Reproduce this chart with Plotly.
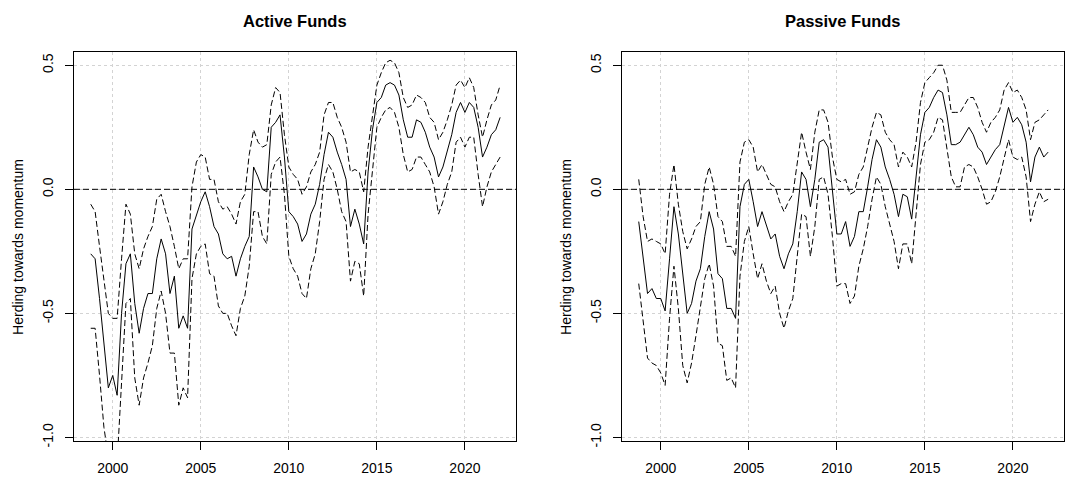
import numpy as np
import plotly.graph_objects as go

# Quarterly observation dates (decimal years), Q4 1998 .. Q1 2022
years = np.arange(1998.75, 2022.0 + 1e-9, 0.25)

# Active funds: estimate and confidence band
active_mean = [
    -0.26,
    -0.28, -0.44, -0.63, -0.80,
    -0.75, -0.83, -0.50, -0.30,
    -0.26, -0.46, -0.58, -0.48,
    -0.42, -0.42, -0.28, -0.20,
    -0.26, -0.42, -0.35, -0.56,
    -0.51, -0.56, -0.16, -0.10,
    -0.05, -0.01, -0.07, -0.15,
    -0.18, -0.26, -0.28, -0.27,
    -0.35, -0.28, -0.23, -0.19,
    0.09, 0.05, 0.00, -0.01,
    0.25, 0.27, 0.30, 0.13,
    -0.09, -0.11, -0.14, -0.21,
    -0.18, -0.10, -0.06, 0.02,
    0.14, 0.23, 0.21, 0.15,
    0.10, 0.04, -0.15, -0.08,
    -0.14, -0.22, 0.07, 0.24,
    0.35, 0.37, 0.42, 0.43,
    0.42, 0.38, 0.28, 0.21,
    0.21, 0.28, 0.27, 0.23,
    0.17, 0.13, 0.05, 0.09,
    0.15, 0.22, 0.31, 0.35,
    0.31, 0.35, 0.33, 0.25,
    0.13, 0.17, 0.22, 0.24,
    0.29,
]
active_upper = [
    -0.06,
    -0.09, -0.23, -0.36, -0.50,
    -0.52, -0.52, -0.28, -0.06,
    -0.10, -0.26, -0.32, -0.24,
    -0.19, -0.15, -0.04, -0.02,
    -0.09, -0.15, -0.23, -0.32,
    -0.28, -0.28, 0.01, 0.11,
    0.14, 0.13, 0.04, 0.04,
    -0.05, -0.08, -0.07, -0.10,
    -0.14, -0.05, -0.02, 0.14,
    0.24, 0.19, 0.17, 0.18,
    0.34, 0.41, 0.39, 0.22,
    0.09, 0.06, 0.04, -0.02,
    0.01, 0.07, 0.10, 0.15,
    0.30, 0.35, 0.35, 0.29,
    0.25, 0.19, 0.07, 0.08,
    0.07, -0.01, 0.17, 0.30,
    0.42, 0.47, 0.51, 0.52,
    0.51, 0.47, 0.37, 0.33,
    0.34, 0.38, 0.37, 0.35,
    0.29, 0.27, 0.20, 0.23,
    0.28, 0.34, 0.42, 0.44,
    0.41, 0.45, 0.41, 0.30,
    0.21, 0.28, 0.34, 0.36,
    0.42,
]
active_lower = [
    -0.56,
    -0.56, -0.75, -0.96, -1.08,
    -1.04, -1.10, -0.76, -0.46,
    -0.44, -0.76, -0.87, -0.76,
    -0.70, -0.63, -0.48, -0.41,
    -0.50, -0.66, -0.66, -0.87,
    -0.80, -0.84, -0.36, -0.26,
    -0.23, -0.22, -0.34, -0.35,
    -0.47, -0.50, -0.50, -0.55,
    -0.59, -0.48, -0.43, -0.31,
    -0.09, -0.09, -0.19, -0.22,
    0.06, 0.11, 0.13, -0.02,
    -0.27, -0.32, -0.35, -0.42,
    -0.44, -0.32, -0.26, -0.13,
    0.04, 0.10, 0.07, 0.00,
    -0.09, -0.13, -0.37, -0.29,
    -0.30, -0.43, -0.10, 0.07,
    0.25, 0.29, 0.32, 0.33,
    0.31, 0.25, 0.14, 0.07,
    0.08, 0.13, 0.13, 0.10,
    0.07, 0.01, -0.10, -0.05,
    0.02, 0.07, 0.19, 0.21,
    0.17, 0.21, 0.21, 0.06,
    -0.07, 0.01, 0.07, 0.10,
    0.13,
]

# Passive funds: estimate and confidence band
passive_mean = [
    -0.13,
    -0.27, -0.42, -0.40, -0.44,
    -0.44, -0.49, -0.28, -0.07,
    -0.18, -0.35, -0.50, -0.46,
    -0.37, -0.32, -0.19, -0.09,
    -0.16, -0.34, -0.36, -0.48,
    -0.48, -0.52, -0.07, 0.02,
    0.04, -0.05, -0.15, -0.09,
    -0.15, -0.20, -0.18, -0.27,
    -0.32, -0.26, -0.22, -0.09,
    0.07, 0.04, -0.07, 0.04,
    0.19, 0.20, 0.17, -0.01,
    -0.18, -0.18, -0.13, -0.23,
    -0.19, -0.09, -0.09, 0.01,
    0.12, 0.20, 0.17, 0.09,
    0.04, -0.02, -0.11, -0.02,
    -0.03, -0.12, 0.06, 0.22,
    0.31, 0.33, 0.37, 0.40,
    0.39, 0.30, 0.18, 0.18,
    0.19, 0.22, 0.25, 0.22,
    0.17, 0.15, 0.10, 0.13,
    0.16, 0.18, 0.26, 0.33,
    0.27, 0.29, 0.26, 0.19,
    0.03, 0.13, 0.17, 0.13,
    0.15,
]
passive_upper = [
    0.04,
    -0.11, -0.21, -0.20, -0.21,
    -0.22, -0.26, -0.02, 0.10,
    -0.06, -0.17, -0.24, -0.20,
    -0.15, -0.13, 0.02, 0.09,
    0.02, -0.11, -0.13, -0.23,
    -0.23, -0.27, 0.11, 0.19,
    0.20, 0.17, 0.07, 0.10,
    0.06, 0.02, 0.01, -0.05,
    -0.09, -0.05, -0.02, 0.11,
    0.23, 0.15, 0.08, 0.23,
    0.32, 0.32, 0.27, 0.13,
    0.04, 0.03, 0.04, -0.02,
    -0.01, 0.06, 0.09, 0.17,
    0.25, 0.31, 0.30, 0.23,
    0.20, 0.18, 0.09, 0.15,
    0.13, 0.09, 0.19, 0.35,
    0.43, 0.45, 0.47, 0.50,
    0.50, 0.44, 0.31, 0.31,
    0.31, 0.34, 0.37, 0.37,
    0.33, 0.27, 0.23, 0.27,
    0.29, 0.32, 0.40, 0.43,
    0.39, 0.40, 0.37, 0.32,
    0.20, 0.27, 0.28, 0.30,
    0.32,
]
passive_lower = [
    -0.38,
    -0.52, -0.68, -0.70, -0.71,
    -0.74, -0.79, -0.52, -0.31,
    -0.48, -0.71, -0.78, -0.70,
    -0.59, -0.48, -0.36, -0.30,
    -0.39, -0.62, -0.63, -0.77,
    -0.76, -0.80, -0.35, -0.21,
    -0.15, -0.26, -0.36, -0.30,
    -0.37, -0.42, -0.39, -0.50,
    -0.56, -0.49, -0.44, -0.27,
    -0.10, -0.11, -0.27, -0.15,
    0.04, 0.05, -0.02, -0.19,
    -0.39, -0.38, -0.38, -0.46,
    -0.43, -0.31, -0.24, -0.15,
    -0.04, 0.05, 0.02, -0.07,
    -0.14, -0.21, -0.32, -0.22,
    -0.22, -0.30, -0.10, 0.10,
    0.19, 0.20, 0.23, 0.29,
    0.28, 0.17, 0.05, 0.01,
    0.01, 0.09, 0.10, 0.09,
    0.05, 0.00, -0.06, -0.05,
    -0.01, 0.05, 0.13, 0.20,
    0.13, 0.12, 0.13, 0.05,
    -0.13, -0.06, -0.01, -0.05,
    -0.04,
]

panel_titles = ["Active Funds", "Passive Funds"]
y_label = "Herding towards momentum"
x_ticks = [2000, 2005, 2010, 2015, 2020]
y_ticks = [-1.0, -0.5, 0.0, 0.5]
y_ticktext = ["-1.0", "-0.5", "0.0", "0.5"]

W, H = 1065, 482
FONT = "Liberation Sans, Arial, sans-serif"
DASH = "6px,3px"

fig = go.Figure()

panels = [
    (active_mean, active_upper, active_lower, "x", "y"),
    (passive_mean, passive_upper, passive_lower, "x2", "y2"),
]
for mean, upper, lower, xa, ya in panels:
    for vals, dash in ((upper, DASH), (lower, DASH), (mean, "solid")):
        fig.add_trace(go.Scatter(
            x=years, y=vals, mode="lines", xaxis=xa, yaxis=ya,
            line=dict(color="black", width=1, dash=dash),
            showlegend=False, hoverinfo="skip",
        ))

# plot-box pixel positions
box_left = [74, 622]
box_w = 442
box_top, box_bottom = 53, 447

axis_common = dict(
    showline=True, mirror=True, linecolor="black", linewidth=1,
    ticks="outside", ticklen=8, tickwidth=1, tickcolor="black",
    showgrid=True, gridcolor="#d3d3d3", griddash="dot", gridwidth=1,
    zeroline=False, tickfont=dict(family=FONT, size=14, color="black"),
)

layout = dict(
    width=W, height=H,
    margin=dict(l=0, r=0, t=0, b=0),
    paper_bgcolor="white", plot_bgcolor="white",
    showlegend=False,
)
for i, (xname, yname) in enumerate((("xaxis", "yaxis"), ("xaxis2", "yaxis2"))):
    xa = dict(axis_common)
    xa.update(
        domain=[box_left[i] / W, (box_left[i] + box_w) / W],
        range=[1997.8, 2022.9], tickmode="array", tickvals=x_ticks,
        ticklabelstandoff=6, anchor="y" if i == 0 else "y2",
    )
    ya = dict(axis_common)
    ya.update(
        domain=[(H - box_bottom) / H, (H - box_top) / H],
        range=[-1.016, 0.552], tickmode="array", tickvals=y_ticks,
        ticktext=y_ticktext, tickangle=-90, ticklabelstandoff=6,
        anchor="x" if i == 0 else "x2",
    )
    layout[xname] = xa
    layout[yname] = ya
fig.update_layout(**layout)

for i, title in enumerate(panel_titles):
    cx = (box_left[i] + box_w / 2) / W
    fig.add_annotation(
        text=f"<b>{title}</b>", x=cx, y=1 - 21 / H, xref="paper", yref="paper",
        xanchor="center", yanchor="middle", showarrow=False,
        font=dict(family=FONT, size=16.5, color="black"),
    )
    fig.add_annotation(
        text=y_label, x=(box_left[i] - 56) / W, y=(H - (box_top + box_bottom) / 2) / H,
        xref="paper", yref="paper", xanchor="center", yanchor="middle",
        textangle=-90, showarrow=False,
        font=dict(family=FONT, size=14, color="black"),
    )
    # horizontal reference line at zero
    fig.add_shape(
        type="line", xref=("x" if i == 0 else "x2") + " domain",
        yref="y" if i == 0 else "y2", x0=0, x1=1, y0=0, y1=0,
        line=dict(color="black", width=1, dash=DASH),
    )

fig.write_html("out.html", config={"displayModeBar": False})
